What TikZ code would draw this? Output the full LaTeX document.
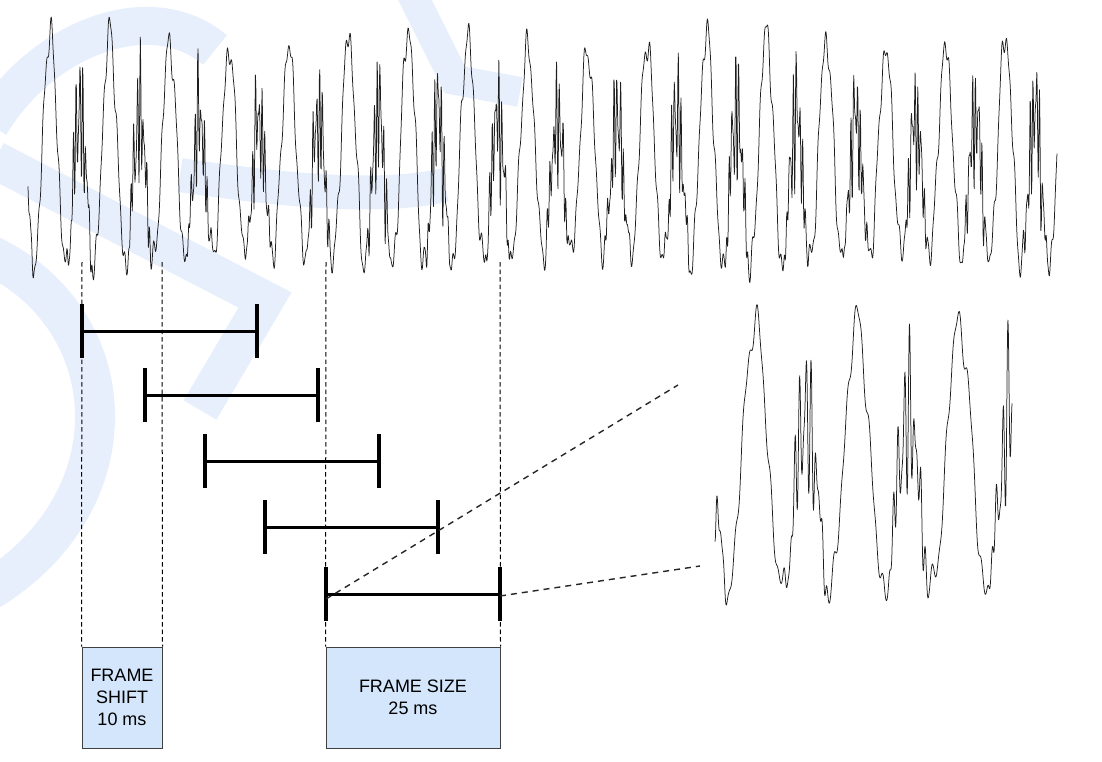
\documentclass[tikz,border=0pt]{standalone}
\usepackage{fontspec}
\setmainfont{Liberation Sans}
\definecolor{boxblue}{RGB}{212,230,251}
\definecolor{wmblue}{RGB}{231,239,253}
\definecolor{wavegray}{RGB}{30,30,30}
\tikzset{
  wave/.style={draw=wavegray, line width=0.75pt, line join=round},
  guide/.style={draw=black, line width=1pt, dash pattern=on 4.5pt off 3pt},
  zoomline/.style={draw=black!85, line width=1.4pt, dash pattern=on 6pt off 5pt},
  barline/.style={draw=black, line width=3pt},
  bartick/.style={draw=black, line width=3.6pt},
  labelbox/.style={draw=black!75, line width=1pt, fill=boxblue, align=center,
    font=\fontsize{18}{22}\selectfont, inner sep=0pt, text=black},
  wm/.style={draw=wmblue, line width=38pt}
}
\begin{document}
\begin{tikzpicture}[x=1pt,y=-1pt,
  declare function={
    env(\p)=max(0,-cos(6.0302*mod(\p,59.7)))^2;
    sig(\p)=0.72*cos(12.0603*mod(\p,29.85))+0.3*cos(6.0302*mod(\p,59.7))
      +env(\p)*(0.33*sin(112.5*mod(\p,3.2))+0.22*sin(156.52*mod(\p,2.3)))
      +0.07*sin(49.315*mod(\p,7.3))+0.05*sin(87.8*mod(\p,4.1))
      +0.05*sin(31.86*mod(\p,11.3));
  }]
\useasboundingbox (0,0) rectangle (1102,762);
\clip (0,0) rectangle (1102,762);
% watermark
\draw[wm] (-10,125) .. controls (40,40) and (150,-5) .. (215,50);
\draw[wm] (-5,160) -- (265,300) -- (200,410);
\draw[wm, line width=40pt] (-10,255) .. controls (125,320) and (135,500) .. (-10,590);
\draw[wm, line width=34pt] (180,175) .. controls (280,190) and (380,200) .. (445,185);
\draw[wm, line width=30pt] (410,-10) -- (455,80) -- (520,92);
% main waveform
\draw[wave] plot[domain=28:1057, samples=2300] (\x,{168-125*(1+0.08*sin(1.0909*\x))*sig(\x-50)});
% zoomed waveform
\draw[wave] plot[domain=715:1012, samples=800] (\x,{477-152*sig((\x-755)/1.71)});
% labels
\node[labelbox, minimum width=80pt, minimum height=101pt] (shift) at (122,697.5) {FRAME\\SHIFT\\10 ms};
\node[labelbox, minimum width=174pt, minimum height=101pt] (size) at (413,697.5) {FRAME SIZE\\25 ms};
% guides
\coordinate (g1) at (82,262);
\coordinate (g2) at (162,262);
\coordinate (g3) at (326,262);
\coordinate (g4) at (500,262);
\draw[guide] (g1) -- (shift.north west);
\draw[guide] (g2) -- (shift.north east);
\draw[guide] (g3) -- (size.north west);
\draw[guide] (g4) -- (size.north east);
% frame bars
\foreach \i/\xa/\xb/\yy in {1/82/257/331, 2/145/318/395, 3/205/379/461, 4/265/438/527, 5/326/500/594}{
  \coordinate (b\i l) at (\xa,\yy);
  \coordinate (b\i r) at (\xb,\yy);
  \draw[barline] (b\i l) -- (b\i r);
  \draw[bartick] ([yshift=-27pt]b\i l) -- ([yshift=27pt]b\i l);
  \draw[bartick] ([yshift=-27pt]b\i r) -- ([yshift=27pt]b\i r);
}
% zoom lines
\coordinate (z1) at (678,385);
\coordinate (z2) at (700,566);
\draw[zoomline] ([yshift=-5pt]b5l) -- (z1);
\draw[zoomline] ([yshift=-2pt]b5r) -- (z2);
\end{tikzpicture}
\end{document}
